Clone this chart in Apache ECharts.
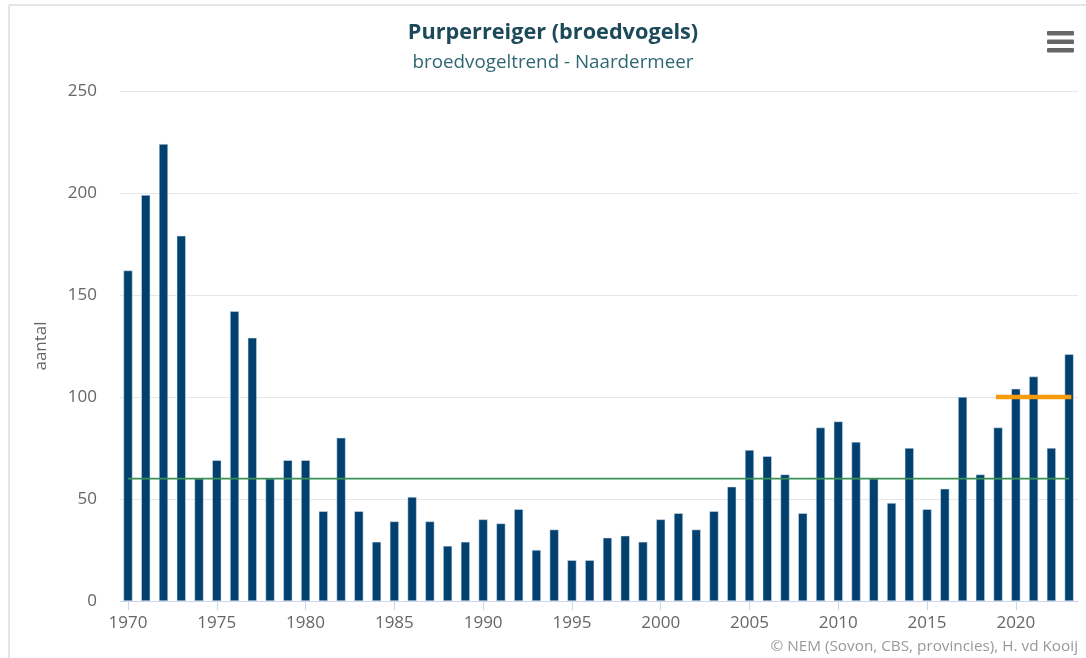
<!DOCTYPE html>
<html>
<head>
<meta charset="utf-8">
<script src="https://cdn.jsdelivr.net/npm/echarts@6/dist/echarts.min.js"></script>
<style>
html,body{margin:0;padding:0;background:#fff;}
#chart{width:1086px;height:658px;}
</style>
</head>
<body>
<div id="chart"></div>
<script>
const years = [1970,1971,1972,1973,1974,1975,1976,1977,1978,1979,1980,1981,1982,1983,1984,1985,1986,1987,1988,1989,1990,1991,1992,1993,1994,1995,1996,1997,1998,1999,2000,2001,2002,2003,2004,2005,2006,2007,2008,2009,2010,2011,2012,2013,2014,2015,2016,2017,2018,2019,2020,2021,2022,2023];
const counts = [162,199,224,179,60,69,142,129,60,69,69,44,80,44,29,39,51,39,27,29,40,38,45,25,35,20,20,31,32,29,40,43,35,44,56,74,71,62,43,85,88,78,60,48,75,45,55,100,62,85,104,110,75,121];
const longTermYears = [1970, 2023];
const longTermValues = [60, 60];
const recentYears = [2019, 2023];
const recentValues = [100, 100];
const xTickLabels = [1970,1975,1980,1985,1990,1995,2000,2005,2010,2015,2020];
const titleText = 'Purperreiger (broedvogels)';
const subtitleText = 'broedvogeltrend - Naardermeer';
const creditText = '© NEM (Sovon, CBS, provincies), H. vd Kooij';

const FONT = '"Open Sans", "DejaVu Sans", sans-serif';
const chart = echarts.init(document.getElementById('chart'), null, {renderer:'canvas'});

chart.setOption({
  animation:false,
  backgroundColor:'#ffffff',
  grid:{left:120,right:8,top:91,bottom:57,containLabel:false},
  xAxis:{
    type:'value',
    min:1969.55,
    max:2023.5,
    axisLine:{show:true,lineStyle:{color:'#ccd6eb',width:1}},
    axisTick:{show:true,length:9,lineStyle:{color:'#ccd6eb'},customValues:xTickLabels},
    axisLabel:{color:'#666666',fontFamily:FONT,fontSize:17,margin:14,customValues:xTickLabels,formatter:v=>String(v)},
    splitLine:{show:false}
  },
  yAxis:{
    type:'value',
    min:0,max:250,interval:50,
    name:'aantal',
    nameLocation:'middle',
    nameRotate:90,
    nameGap:70,
    nameTextStyle:{color:'#666666',fontFamily:FONT,fontSize:17},
    axisLine:{show:false},
    axisTick:{show:false},
    axisLabel:{color:'#666666',fontFamily:FONT,fontSize:17,margin:23},
    splitLine:{lineStyle:{color:'#e6e6e6',width:1}}
  },
  series:[
    {
      type:'bar',
      data:years.map((y,i)=>[y,counts[i]]),
      barWidth:9,
      itemStyle:{color:'#01406f',borderColor:'#dfe6f0',borderWidth:0.5},
      z:2
    },
    {
      type:'line',
      data:longTermYears.map((y,i)=>[y,longTermValues[i]]),
      showSymbol:false,
      lineStyle:{color:'#3a8f55',width:1.6},
      z:3
    },
    {
      type:'line',
      data:recentYears.map((y,i)=>[y,recentValues[i]]),
      showSymbol:false,
      lineStyle:{color:'#f59b0c',width:4.5,cap:'square'},
      z:4
    }
  ],
  graphic:[
    {type:'line',shape:{x1:9,y1:5,x2:1086,y2:5},style:{stroke:'#e2e6e8',lineWidth:2},silent:true},
    {type:'line',shape:{x1:9,y1:5,x2:9,y2:658},style:{stroke:'#e2e6e8',lineWidth:2},silent:true},
    {type:'text',x:553,y:33,style:{text:titleText,fill:'#1d4a5a',font:'bold 21.7px "Open Sans", sans-serif',textAlign:'center',textVerticalAlign:'middle'}},
    {type:'text',x:553,y:63,style:{text:subtitleText,fill:'#2f6673',font:'18.8px "Open Sans", sans-serif',textAlign:'center',textVerticalAlign:'middle'}},
    {type:'rect',shape:{x:1047,y:31,width:27,height:4.5,r:1},style:{fill:'#666666'}},
    {type:'rect',shape:{x:1047,y:39.5,width:27,height:4.5,r:1},style:{fill:'#666666'}},
    {type:'rect',shape:{x:1047,y:48,width:27,height:4.5,r:1},style:{fill:'#666666'}},
    {type:'text',x:1078,y:647,style:{text:creditText,fill:'#999999',font:'15.3px "Open Sans", sans-serif',textAlign:'right',textVerticalAlign:'middle'}}
  ]
});
</script>
</body>
</html>
